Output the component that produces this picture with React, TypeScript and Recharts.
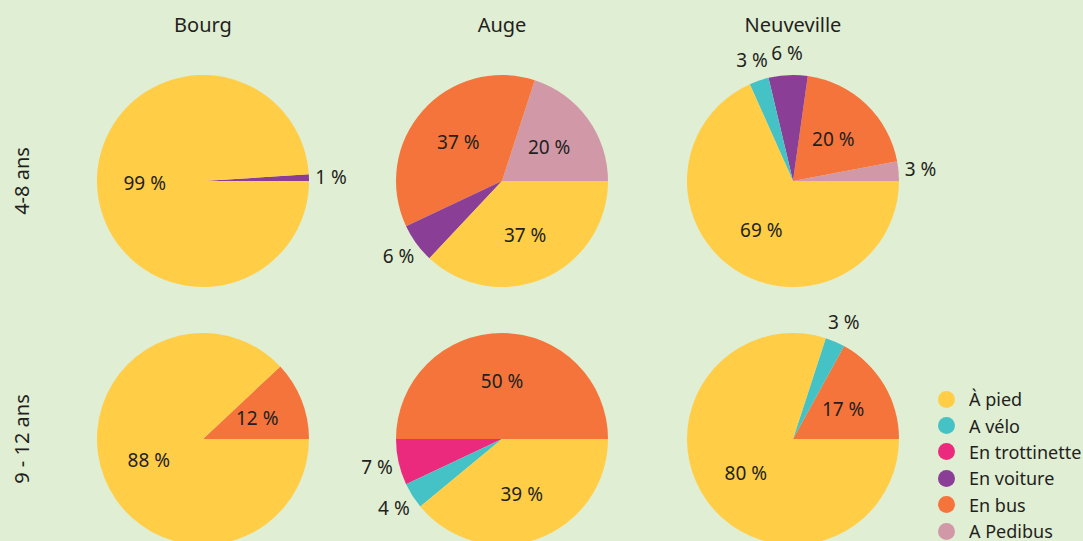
import React from "react";
import { PieChart, Pie, Cell } from "recharts";

// modes de transport (ordre de la légende)
const modes = ["À pied", "A vélo", "En trottinette", "En voiture", "En bus", "A Pedibus"];
const modeColors = ["#FFCD46", "#45C2C5", "#EC2A7D", "#8A3E96", "#F4743B", "#D199A7"];

const villages = ["Bourg", "Auge", "Neuveville"];
const ageGroups = ["4-8 ans", "9 - 12 ans"];

// valeurs en %, même ordre que modes
const bourg48 = [99, 0, 0, 1, 0, 0];
const auge48 = [37, 0, 0, 6, 37, 20];
const neuveville48 = [69, 3, 0, 6, 20, 3];
const bourg912 = [88, 0, 0, 0, 12, 0];
const auge912 = [39, 4, 7, 0, 50, 0];
const neuveville912 = [80, 3, 0, 0, 17, 0];

const rows = [
  [bourg48, auge48, neuveville48],
  [bourg912, auge912, neuveville912],
];

const W = 1083;
const H = 541;
const BG = "#E0EED3";
const TEXT = "#231F20";
const FONT = "'Noto Sans', sans-serif";
const colX = [203, 502, 793];
const rowY = [181, 439];
const R = 106;
const RAD = Math.PI / 180;

// les parts tournent dans le sens inverse de la légende, à partir de 0°
const toSlices = (values: number[]) =>
  modes
    .map((name, i) => ({ name, value: values[i], color: modeColors[i] }))
    .filter((d) => d.value > 0)
    .reverse();

const renderLabel = (props: any) => {
  const { cx, cy, midAngle, outerRadius, percent, value } = props;
  const r = percent < 0.1 ? outerRadius + 22 : outerRadius * 0.55;
  const x = cx + r * Math.cos(-midAngle * RAD);
  const y = cy + r * Math.sin(-midAngle * RAD);
  return (
    <text
      x={x}
      y={y}
      fill={TEXT}
      fontSize={19}
      fontFamily={FONT}
      textAnchor="middle"
      dominantBaseline="central"
    >
      {`${value} %`}
    </text>
  );
};

export default function App() {
  return (
    <div
      style={{
        position: "absolute",
        left: 0,
        top: 0,
        width: W,
        height: H,
        background: BG,
        overflow: "hidden",
        fontFamily: FONT,
        color: TEXT,
      }}
    >
      <PieChart
        width={W}
        height={H}
        margin={{ top: 0, right: 0, bottom: 0, left: 0 }}
        style={{ position: "absolute", left: 0, top: 0 }}
      >
        {rows.map((row, ri) =>
          row.map((values, ci) => {
            const slices = toSlices(values);
            return (
              <Pie
                key={`pie-${ri}-${ci}`}
                data={slices}
                dataKey="value"
                nameKey="name"
                cx={colX[ci]}
                cy={rowY[ri]}
                outerRadius={R}
                startAngle={0}
                endAngle={360}
                stroke="none"
                label={renderLabel}
                labelLine={false}
                isAnimationActive={false}
              >
                {slices.map((s, i) => (
                  <Cell key={`cell-${i}`} fill={s.color} />
                ))}
              </Pie>
            );
          })
        )}
      </PieChart>

      {villages.map((v, i) => (
        <div
          key={v}
          style={{
            position: "absolute",
            left: colX[i] - 100,
            top: 11,
            width: 200,
            textAlign: "center",
            fontSize: 20,
            lineHeight: "28px",
          }}
        >
          {v}
        </div>
      ))}

      {ageGroups.map((a, i) => (
        <div
          key={a}
          style={{
            position: "absolute",
            left: 22 - 100,
            top: rowY[i] - 14,
            width: 200,
            textAlign: "center",
            fontSize: 20,
            lineHeight: "28px",
            transform: "rotate(-90deg)",
          }}
        >
          {a}
        </div>
      ))}

      <div style={{ position: "absolute", left: 938, top: 386 }}>
        {modes.map((m, i) => (
          <div
            key={m}
            style={{ display: "flex", alignItems: "center", height: 26.4 }}
          >
            <span
              style={{
                width: 17,
                height: 17,
                borderRadius: "50%",
                background: modeColors[i],
                display: "inline-block",
                marginRight: 14,
              }}
            />
            <span style={{ fontSize: 18, lineHeight: "26px" }}>{m}</span>
          </div>
        ))}
      </div>
    </div>
  );
}
